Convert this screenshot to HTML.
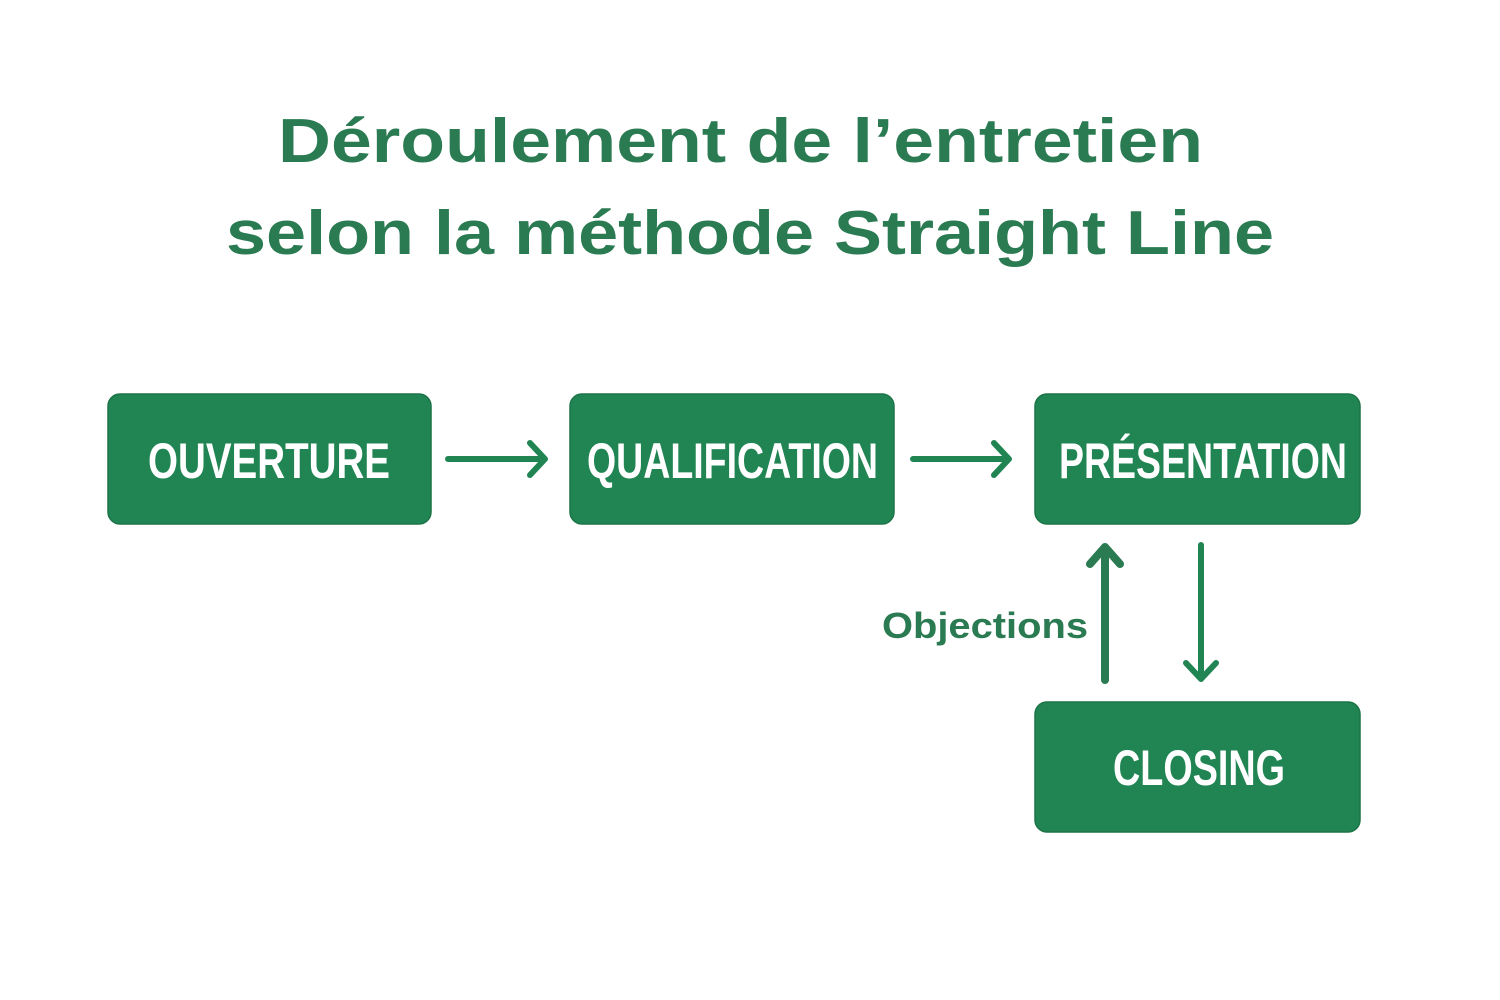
<!DOCTYPE html>
<html><head><meta charset="utf-8"><style>
html,body{margin:0;padding:0;background:#fff;}
svg{display:block}
</style></head><body>
<svg width="1500" height="1000" viewBox="0 0 1500 1000" xmlns="http://www.w3.org/2000/svg">
<rect width="1500" height="1000" fill="#fff"/>
<g font-family="'Liberation Sans', sans-serif" font-weight="bold" fill="#2a7a52">
<text x="278" y="162" font-size="62" textLength="925" lengthAdjust="spacingAndGlyphs">Déroulement de l’entretien</text>
<text x="226" y="254" font-size="62" textLength="1048" lengthAdjust="spacingAndGlyphs">selon la méthode Straight Line</text>
<text x="882" y="638" font-size="36" textLength="206" lengthAdjust="spacingAndGlyphs">Objections</text>
</g>
<g fill="#218553" stroke="#1c7447" stroke-width="1.5">
<rect x="108" y="394" width="323" height="130" rx="12"/>
<rect x="570" y="394" width="324" height="130" rx="12"/>
<rect x="1035" y="394" width="325" height="130" rx="12"/>
<rect x="1035" y="702" width="325" height="130" rx="12"/>
</g>
<g font-family="'Liberation Sans Narrow','Liberation Sans', sans-serif" font-weight="bold" fill="#fff" font-size="50">
<text x="148" y="478" textLength="242" lengthAdjust="spacingAndGlyphs">OUVERTURE</text>
<text x="587" y="478" textLength="291" lengthAdjust="spacingAndGlyphs">QUALIFICATION</text>
<text x="1059" y="478" textLength="288" lengthAdjust="spacingAndGlyphs">PRÉSENTATION</text>
<text x="1113" y="785" textLength="172" lengthAdjust="spacingAndGlyphs">CLOSING</text>
</g>
<g stroke="#218553" stroke-width="6" fill="none" stroke-linecap="round" stroke-linejoin="round">
<path d="M448 459 H544 M530 443 L545 459 L530 475"/>
<path d="M913 459 H1008 M994 443 L1009 459 L994 475"/>
<path d="M1105 680 V547 M1090 564 L1105 547 L1120 564" stroke="#2a7a52" stroke-width="8"/>
<path d="M1201 545 V678 M1186 663 L1201 679 L1216 663"/>
</g>
</svg>
</body></html>
